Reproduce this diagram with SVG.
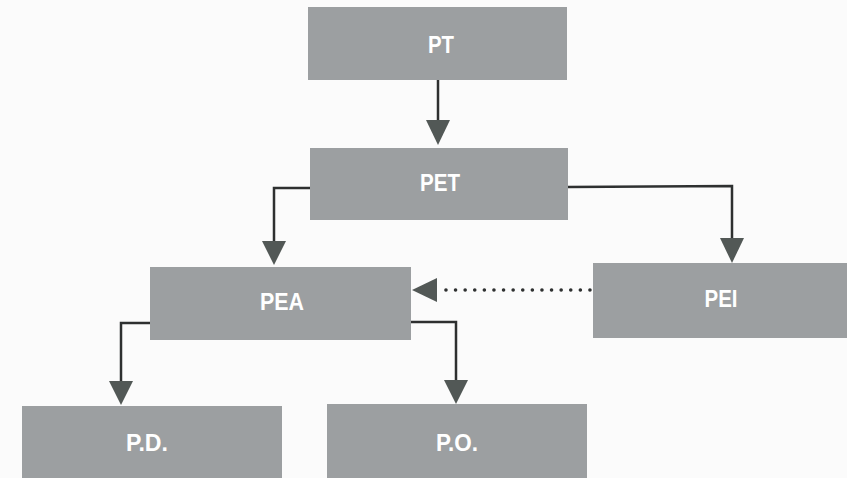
<svg xmlns="http://www.w3.org/2000/svg" width="847" height="478" viewBox="0 0 847 478">
  <defs>
    <style>
      .box { fill: #9c9fa1; }
      .lbl { fill: #ffffff; font-family: "Liberation Sans Narrow", "Liberation Sans", Arial, sans-serif; font-size: 23px; font-weight: bold; text-anchor: middle; dominant-baseline: central; }
      .wire { fill: none; stroke: #2e3030; stroke-width: 2.5; }
      .dots { fill: none; stroke: #2e3030; stroke-width: 3.5; stroke-dasharray: 0.1 9.5; stroke-linecap: round; }
      .head { fill: #525856; }
    </style>
  </defs>
  <rect width="847" height="478" fill="#fbfbfb"/>

  <g id="connectors">
    <!-- PT -> PET -->
    <line class="wire" x1="438" y1="80" x2="438" y2="122"/>
    <polygon class="head" points="426,120 450,120 438,145"/>
    <!-- PET -> PEA -->
    <polyline class="wire" points="310,188 274,188 274,243"/>
    <polygon class="head" points="262,241 286,241 274,265"/>
    <!-- PET -> PEI -->
    <polyline class="wire" points="568,187 732,186 732,240"/>
    <polygon class="head" points="720,238 744,238 732,263"/>
    <!-- PEI -> PEA dotted -->
    <line class="dots" x1="590" y1="290" x2="440" y2="290"/>
    <polygon class="head" points="437,278 437,302 412,290"/>
    <!-- PEA -> P.D. -->
    <polyline class="wire" points="150,323 121,323 121,383"/>
    <polygon class="head" points="109,381 133,381 121,405"/>
    <!-- PEA -> P.O. -->
    <polyline class="wire" points="411,322 456,322 456,382"/>
    <polygon class="head" points="444,380 468,380 456,404"/>
  </g>

  <g id="PT">
    <rect class="box" x="308" y="7" width="259" height="73"/>
    <text class="lbl" x="441" y="45" textLength="26" lengthAdjust="spacingAndGlyphs">PT</text>
  </g>
  <g id="PET">
    <rect class="box" x="310" y="148" width="258" height="72"/>
    <text class="lbl" x="440" y="183" textLength="40" lengthAdjust="spacingAndGlyphs">PET</text>
  </g>
  <g id="PEA">
    <rect class="box" x="150" y="267" width="261" height="73"/>
    <text class="lbl" x="282" y="302" textLength="44" lengthAdjust="spacingAndGlyphs">PEA</text>
  </g>
  <g id="PEI">
    <rect class="box" x="593" y="263" width="254" height="75"/>
    <text class="lbl" x="721" y="299" textLength="33" lengthAdjust="spacingAndGlyphs">PEI</text>
  </g>
  <g id="PD">
    <rect class="box" x="22" y="406" width="260" height="72"/>
    <text class="lbl" x="147" y="443" textLength="42" lengthAdjust="spacingAndGlyphs">P.D.</text>
  </g>
  <g id="PO">
    <rect class="box" x="327" y="404" width="260" height="74"/>
    <text class="lbl" x="457" y="443" textLength="42" lengthAdjust="spacingAndGlyphs">P.O.</text>
  </g>
</svg>
